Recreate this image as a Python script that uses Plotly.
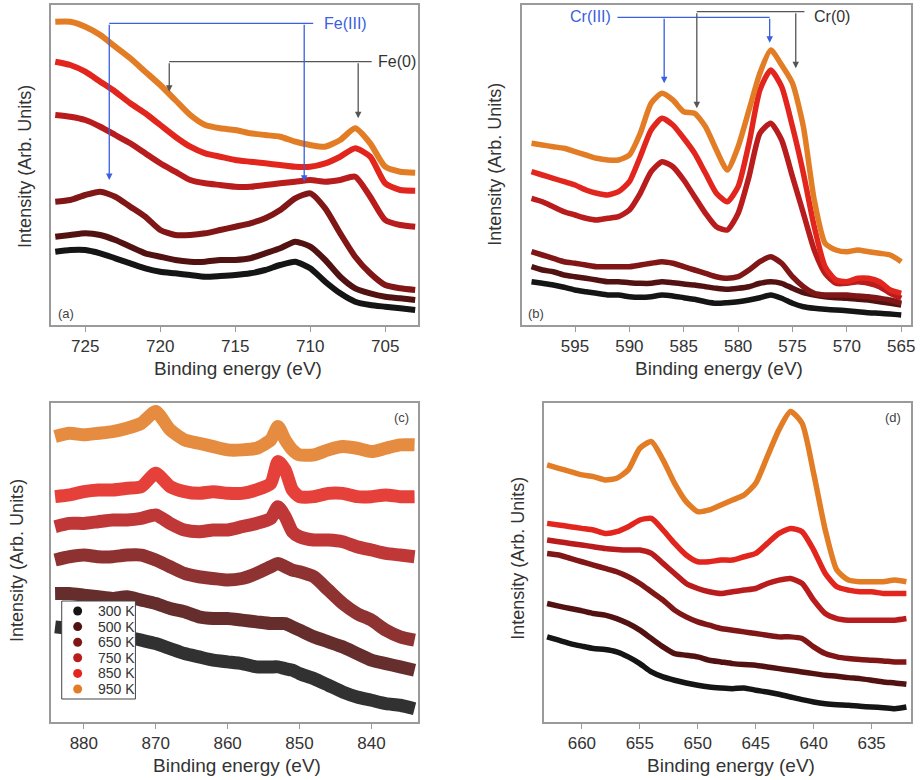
import plotly.graph_objects as go

# ---------------- data ----------------
temps = ["300 K", "500 K", "650 K", "750 K", "850 K", "950 K"]
colors = ["#151515", "#521212", "#801616", "#b81c1c", "#e2261e", "#e27d26"]

# (a) Fe 2p
fe_energy = [727, 726, 725, 724, 723, 722, 721, 720, 719, 718, 717, 716, 715,
             714, 713, 712, 711, 710, 709, 708, 707, 706, 705, 704, 703]
fe_300 = [73.3, 75, 75, 71.7, 66.7, 61.7, 56.7, 53.3, 51.7, 50, 48.3, 49, 50,
          51.7, 55, 60, 63.3, 56.7, 43.3, 31.7, 23.3, 20, 18.3, 16.7, 15]
fe_500 = [88.3, 90, 91.7, 90, 85, 78.3, 71.7, 68.3, 65, 63.3, 63.3, 65, 65,
          66.7, 71.7, 76.7, 83.3, 78.3, 65, 48.3, 36.7, 31.7, 28.3, 26.7, 25]
fe_650 = [123.3, 125, 130, 133.3, 128.3, 118.3, 108.3, 95, 90, 90, 91.7, 95, 98.3,
          101.7, 106.7, 115, 126.7, 131.7, 116.7, 91.7, 68.3, 51.7, 40, 36.7, 35]
fe_750 = [210, 208.3, 205, 198.3, 190, 181.7, 171.7, 161.7, 153.3, 145, 141.7, 140, 138.3,
          138.3, 140, 141.7, 143.3, 145, 143.3, 145, 148.3, 128.3, 105, 100, 98.3]
fe_850 = [263.3, 260, 253.3, 243.3, 233.3, 221.7, 211.7, 200, 188.3, 178.3, 171.7, 168.3, 165,
          163.3, 161.7, 160, 158.3, 158.3, 161.7, 168.3, 176.7, 168.3, 141.7, 135, 134.3]
fe_950 = [303.3, 303.3, 298.3, 290, 278.3, 266.7, 253.3, 240, 225, 210, 200, 196.7, 195,
          191.7, 190, 188.3, 183.3, 180, 178.3, 185, 196.7, 181.7, 158.3, 153.3, 152.3]

# (b) Cr 2p
cr_energy = [599, 598, 597, 596, 595, 594, 593, 592, 591, 590, 589, 588, 587, 586, 585,
             584, 583, 582, 581, 580, 579, 578, 577, 576, 575, 574, 573, 572, 571, 570,
             569, 568, 567, 566, 565]
cr_300 = [43.3, 41.7, 40, 37.7, 35, 33.3, 31.7, 30, 30, 28.3, 27.7, 28.3, 30, 29, 27.3,
          25.7, 23.3, 21.7, 22.3, 23.3, 25, 27.3, 30, 26.7, 21.7, 18.3, 16.7, 15.7, 15, 14.3,
          13.3, 12.3, 11.7, 11, 10]
cr_500 = [58.3, 55, 53.3, 50, 48.3, 46.7, 45, 43.3, 43.3, 42.3, 41.7, 41.7, 43.3, 42.3, 41,
          40, 38.3, 36.7, 35.7, 36.7, 38.3, 41.7, 43.3, 41.7, 36.7, 32.3, 30, 28.3, 27.3, 26.7,
          25.7, 25, 23.3, 21.7, 20]
cr_650 = [73.3, 70, 66.7, 63.3, 61.7, 60, 58.3, 58.3, 58.3, 58.3, 60, 61.7, 63.3, 61.7, 58.3,
          55, 51.7, 48.3, 46.7, 48.3, 55, 63.3, 68.3, 61.7, 48.3, 38.3, 31.7, 30, 30, 30,
          29, 28.3, 26.7, 25, 21.7]
cr_750 = [126.7, 123.3, 118.3, 113.3, 110, 106.7, 105, 106.7, 108.3, 115, 131.7, 153.3, 163.3, 158.3, 145,
          128.3, 111.7, 98.3, 95, 111.7, 148.3, 191.7, 201.7, 185, 148.3, 111.7, 75, 51.7, 41.7, 41.7,
          43.3, 41.7, 38.3, 31.7, 26.7]
cr_850 = [153.3, 150, 146.7, 143.3, 140, 135, 131.7, 130, 133.3, 143.3, 168.3, 195, 206.7, 200, 186.7,
          171.7, 151.7, 131.7, 123.3, 138.3, 181.7, 235, 255, 238.3, 198.3, 151.7, 98.3, 58.3, 45, 43.3,
          46.7, 46.7, 43.3, 35, 31.7]
cr_950 = [181.7, 180, 178.3, 176.7, 173.3, 170, 166.7, 165, 165, 170, 191.7, 221.7, 231.7, 225, 213.3,
          211.7, 198.3, 175, 155, 178.3, 215, 251.7, 275, 260, 241.7, 198.3, 125, 81.7, 75, 73.3,
          75, 73.3, 71.7, 70, 63.3]

# (c) Ni 2p
ni_energy = [884, 882, 880, 878, 876, 874, 872, 870, 868, 866, 864, 862, 860, 858, 856,
             854, 853, 852, 851, 850, 848, 846, 844, 842, 840, 838, 836, 834]
ni_300 = [95, 93.3, 91.7, 90, 88.3, 85, 81.7, 78.3, 73.3, 68.3, 65, 61.7, 60, 58.3, 55,
          55, 55, 53.3, 51.7, 48.3, 43.3, 36.7, 30, 25, 21.7, 18.3, 16.7, 13.3]
ni_500 = [128.3, 128.3, 126.7, 125, 123.3, 125, 121.7, 118.3, 113.3, 110, 105, 103.3, 103.3, 101.7, 100,
          98.3, 98.3, 98.3, 95, 91.7, 85, 80, 75, 68.3, 61.7, 58.3, 55, 51.7]
ni_650 = [161.7, 165, 166.7, 165, 165, 166.7, 166.7, 161.7, 155, 148.3, 145, 143.3, 141.7, 143.3, 148.3,
          155, 158.3, 155, 151.7, 150, 145, 131.7, 118.3, 108.3, 101.7, 91.7, 85, 81.7]
ni_750 = [195, 198.3, 198.3, 200, 201.7, 201.7, 203.3, 206.7, 198.3, 191.7, 190, 191.7, 191.7, 195, 198.3,
          203.3, 215, 205, 190, 185, 181.7, 181.7, 180, 175, 171.7, 168.3, 166.7, 165]
ni_850 = [225, 226.7, 230, 231.7, 231.7, 233.3, 235, 248.3, 235, 230, 228.3, 230, 228.3, 228.3, 231.7,
          238.3, 260, 251.7, 231.7, 225, 225, 228.3, 228.3, 225, 225, 226.7, 225, 225]
ni_950 = [285, 288.3, 286.7, 288.3, 290, 293.3, 298.3, 310, 291.7, 281.7, 278.3, 275, 271.7, 271.7, 273.3,
          281.7, 295, 281.7, 271.7, 266.7, 266.7, 271.7, 275, 273.3, 270, 273.3, 276.7, 276.7]

# (d) Mn 2p
mn_energy = [663, 662, 661, 660, 659, 658, 657, 656, 655, 654, 653, 652, 651, 650, 649, 648,
             647, 646, 645, 644, 643, 642, 641, 640, 639, 638, 637, 636, 635, 634, 633, 632]
mn_300 = [85, 81.7, 78.3, 75.7, 73.3, 72.3, 70, 65, 58.3, 50, 45, 41.7, 39, 36.7, 35, 34,
          33.3, 34, 31.7, 30, 27.7, 25, 22.3, 20, 18.3, 17.3, 16.7, 15.7, 15, 14.3, 13.3, 15]
mn_500 = [118.3, 115.7, 113.3, 111, 108.3, 106.7, 103.3, 98.3, 91.7, 83.3, 75, 68.3, 66.7, 65, 61.7, 60,
          58.3, 57.3, 56.7, 55, 53.3, 51.7, 50, 48.3, 46.7, 45.7, 44.3, 43.3, 41.7, 40, 39, 37.7]
mn_650 = [168.3, 166.7, 163.3, 160, 156.7, 153.3, 150, 145, 138.3, 130, 121.7, 111.7, 105, 100, 96.7, 93.3,
          91.7, 90, 88.3, 86.7, 85, 85, 83.3, 75, 68.3, 65, 63.3, 62.3, 61.7, 61, 60, 60]
mn_750 = [181.7, 180, 178.3, 176.7, 175, 173.3, 172.3, 171.7, 171.7, 168.3, 158.3, 148.3, 138.3, 133.3, 130, 128.3,
          130, 131.7, 133.3, 138.3, 141.7, 143.3, 138.3, 121.7, 108.3, 103.3, 101.7, 101.7, 101.7, 101.7, 101.7, 103.3]
mn_850 = [198.3, 196.7, 195, 193.3, 191.7, 188.3, 190, 195, 201.7, 203.3, 191.7, 178.3, 166.7, 160, 160, 161.7,
          161.7, 165, 168.3, 178.3, 188.3, 193.3, 190, 171.7, 148.3, 135, 131.7, 130, 130, 128.3, 128.3, 128.3]
mn_950 = [256.7, 253.3, 250, 246.7, 245, 241.7, 243.3, 251.7, 273.3, 280, 261.7, 238.3, 220, 210, 211.7, 216.7,
          221.7, 226.7, 238.3, 265, 291.7, 310, 298.3, 248.3, 191.7, 151.7, 141.7, 140, 140, 140, 141.7, 140]

xticks_a = [725, 720, 715, 710, 705]
xticks_b = [595, 590, 585, 580, 575, 570, 565]
xticks_c = [880, 870, 860, 850, 840]
xticks_d = [660, 655, 650, 645, 640, 635]

panels = [
    ("", fe_energy, [fe_300, fe_500, fe_650, fe_750, fe_850, fe_950], 6),
    ("2", cr_energy, [cr_300, cr_500, cr_650, cr_750, cr_850, cr_950], 5.5),
    ("3", ni_energy, [ni_300, ni_500, ni_650, ni_750, ni_850, ni_950], 13),
    ("4", mn_energy, [mn_300, mn_500, mn_650, mn_750, mn_850, mn_950], 5.5),
]

FONT = "Arial, Liberation Sans, sans-serif"
fig = go.Figure()

for suf, xs, series, lw in panels:
    for i, ys in enumerate(series):
        fig.add_trace(go.Scatter(
            x=xs, y=ys, mode="lines",
            line=dict(color=colors[i], width=lw, shape="spline", smoothing=0.6),
            opacity=0.88 if suf == "3" else 1.0,
            xaxis="x" + suf, yaxis="y" + suf, showlegend=False, hoverinfo="skip"))

W, H = 921, 780
def px(x):
    return x / W
def py(y):
    return (H - y) / H

axis_common = dict(showgrid=False, zeroline=False, showline=True, mirror=True,
                   linecolor="#9a9a9a", linewidth=1.5, ticks="outside", ticklen=5,
                   tickcolor="#9a9a9a", ticklabeloverflow="allow",
                   tickfont=dict(size=17, color="#333", family=FONT))
yaxis_common = dict(showgrid=False, zeroline=False, showline=True, mirror=True,
                    linecolor="#9a9a9a", linewidth=1.5, showticklabels=False, ticks="")

top_dom = [py(325), py(5)]
bot_dom = [py(722), py(403)]

fig.update_layout(
    width=W, height=H,
    margin=dict(l=0, r=0, t=0, b=0),
    paper_bgcolor="white", plot_bgcolor="white",
    font=dict(family=FONT, color="#333"),
    showlegend=False,
    xaxis=dict(domain=[px(51), px(420)], range=[727.3, 702.8], tickvals=xticks_a, anchor="y", **axis_common),
    yaxis=dict(domain=top_dom, range=[0, 320], anchor="x", **yaxis_common),
    xaxis2=dict(domain=[px(524), px(915)], range=[599.9, 564.1], tickvals=xticks_b, anchor="y2", **axis_common),
    yaxis2=dict(domain=top_dom, range=[0, 320], anchor="x2", **yaxis_common),
    xaxis3=dict(domain=[px(51), px(420)], range=[884.6, 833.5], tickvals=xticks_c, anchor="y3", **axis_common),
    yaxis3=dict(domain=bot_dom, range=[0, 318.5], anchor="x3", **yaxis_common),
    xaxis4=dict(domain=[px(546), px(915)], range=[663.3, 631.6], tickvals=xticks_d, anchor="y4", **axis_common),
    yaxis4=dict(domain=bot_dom, range=[0, 318.5], anchor="x4", **yaxis_common),
)

ann = []
shapes = []
# axis titles
for (cx, cy) in [(239, 368), (722, 368), (238, 765), (734, 765)]:
    ann.append(dict(text="Binding energy (eV)", x=px(cx), y=py(cy), xref="paper", yref="paper",
                    xanchor="center", yanchor="middle",
                    showarrow=False, font=dict(size=19, color="#333", family=FONT)))
for (cx, cy) in [(25, 166), (497, 164), (17, 560), (520, 558)]:
    ann.append(dict(text="Intensity (Arb. Units)", x=px(cx), y=py(cy), xref="paper", yref="paper",
                    xanchor="center", yanchor="middle",
                    textangle=-90, showarrow=False, font=dict(size=18, color="#333", family=FONT)))
# panel labels
ann += [
    dict(text="(a)", x=0.014, y=0.0375, xref="x domain", yref="y domain", xanchor="left", yanchor="middle",
         showarrow=False, font=dict(size=13, color="#444")),
    dict(text="(b)", x=0.01, y=0.0375, xref="x2 domain", yref="y2 domain", xanchor="left", yanchor="middle",
         showarrow=False, font=dict(size=13, color="#444")),
    dict(text="(c)", x=0.981, y=0.956, xref="x3 domain", yref="y3 domain", xanchor="right", yanchor="middle",
         showarrow=False, font=dict(size=13, color="#444")),
    dict(text="(d)", x=0.978, y=0.956, xref="x4 domain", yref="y4 domain", xanchor="right", yanchor="middle",
         showarrow=False, font=dict(size=13, color="#444")),
]

BLUE = "#3a5fe0"
GREY = "#555555"
def arrow(xa, ya, x, y0, y1, col):
    return dict(x=x, y=y1, ax=x, ay=y0, xref=xa, yref=ya, axref=xa, ayref=ya,
                text="", showarrow=True, arrowhead=2, arrowsize=1, arrowwidth=1.3,
                arrowcolor=col)

# Fe labels (panel a)
ann += [
    arrow("x", "y", 723.4, 301.7, 145, BLUE),
    arrow("x", "y", 710.4, 301.7, 143.3, BLUE),
    dict(text="Fe(III)", x=709.2, y=301.7, xref="x", yref="y", xanchor="left", yanchor="middle",
         showarrow=False, font=dict(size=16, color=BLUE, family=FONT)),
    arrow("x", "y", 719.4, 263.3, 233.3, GREY),
    arrow("x", "y", 706.8, 263.3, 206.7, GREY),
    dict(text="Fe(0)", x=705.6, y=263.3, xref="x", yref="y", xanchor="left", yanchor="middle",
         showarrow=False, font=dict(size=16, color="#333", family=FONT)),
]
# Cr labels (panel b)
ann += [
    arrow("x2", "y2", 586.8, 307.7, 241.7, BLUE),
    arrow("x2", "y2", 577.1, 307.7, 282.3, BLUE),
    dict(text="Cr(III)", x=591.5, y=308.5, xref="x2", yref="y2", xanchor="right", yanchor="middle",
         showarrow=False, font=dict(size=16, color=BLUE, family=FONT)),
    arrow("x2", "y2", 583.8, 313.3, 216.7, GREY),
    arrow("x2", "y2", 574.7, 313.3, 256.7, GREY),
    dict(text="Cr(0)", x=573.2, y=308.5, xref="x2", yref="y2", xanchor="left", yanchor="middle",
         showarrow=False, font=dict(size=16, color="#333", family=FONT)),
]

shapes += [
    dict(type="line", xref="x", yref="y", x0=723.4, x1=709.8, y0=301.7, y1=301.7,
         line=dict(color=BLUE, width=1.3)),
    dict(type="line", xref="x", yref="y", x0=719.4, x1=705.9, y0=263.3, y1=263.3,
         line=dict(color=GREY, width=1.3)),
    dict(type="line", xref="x2", yref="y2", x0=591.1, x1=577.1, y0=307.7, y1=307.7,
         line=dict(color=BLUE, width=1.3)),
    dict(type="line", xref="x2", yref="y2", x0=583.8, x1=573.9, y0=313.3, y1=313.3,
         line=dict(color=GREY, width=1.3)),
]

# legend box drawn inside panel (c)
leg_left, leg_top, leg_right, leg_bottom = 62, 601, 136, 699
row0, row_step = 611, 15.6
shapes.append(dict(type="rect", xref="paper", yref="paper",
                   x0=px(leg_left), x1=px(leg_right), y0=py(leg_bottom), y1=py(leg_top),
                   fillcolor="white", line=dict(color="#444", width=1)))
for i, t in enumerate(temps):
    yc = row0 + i * row_step
    shapes.append(dict(type="circle", xref="paper", yref="paper",
                       x0=px(73.5), x1=px(82.5), y0=py(yc + 4.5), y1=py(yc - 4.5),
                       fillcolor=colors[i], line=dict(color=colors[i], width=0)))
    ann.append(dict(text=t, x=px(96), y=py(yc), xref="paper", yref="paper",
                    xanchor="left", yanchor="middle", showarrow=False,
                    font=dict(size=14, color="#333", family=FONT)))

fig.update_layout(annotations=ann, shapes=shapes)
fig.write_html("out.html", config={"displayModeBar": False},
               post_script="document.body.style.margin='0';document.body.style.padding='0';")
